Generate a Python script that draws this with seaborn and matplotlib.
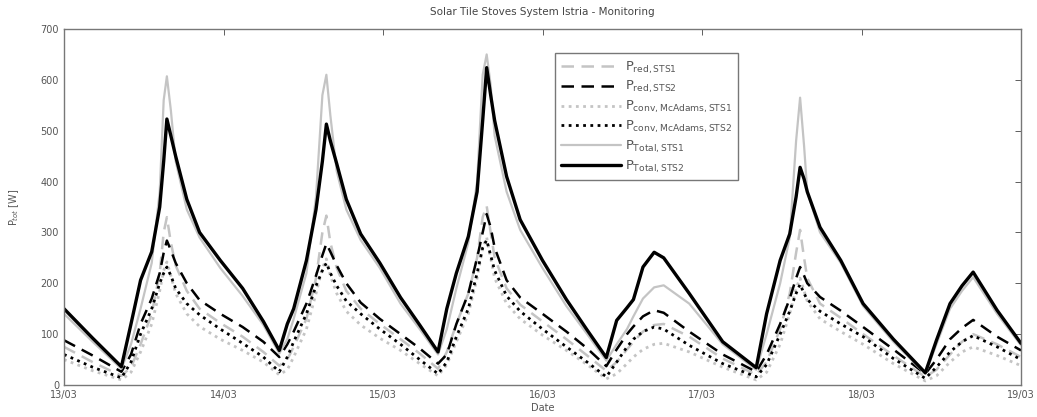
import numpy as np
import pandas as pd
import seaborn as sns
import matplotlib
matplotlib.use("Agg")
import matplotlib.pyplot as plt

# time in days since 13/03 00:00
time_days = [
    0.00, 0.18, 0.36, 0.42, 0.48, 0.55, 0.60, 0.625, 0.645, 0.67, 0.70, 0.77, 0.85, 0.98, 1.12, 1.25,
    1.35, 1.40, 1.44, 1.52, 1.58, 1.62, 1.645, 1.67, 1.71, 1.77, 1.86, 1.98, 2.11, 2.23,
    2.345, 2.40, 2.46, 2.535, 2.59, 2.625, 2.65, 2.675, 2.70, 2.775, 2.86, 3.00, 3.15, 3.28,
    3.40, 3.465, 3.53, 3.57, 3.63, 3.70, 3.76, 3.92, 4.13,
    4.34, 4.405, 4.49, 4.55, 4.59, 4.615, 4.64, 4.66, 4.74, 4.87, 5.01, 5.20,
    5.40, 5.47, 5.555, 5.63, 5.70, 5.85, 6.00,
]

p_red_sts1 = [
    75, 45, 18, 35, 80, 140, 220, 300, 330, 280, 235, 185, 150, 122, 95, 65,
    38, 50, 75, 130, 210, 300, 333, 280, 230, 185, 150, 120, 90, 62,
    32, 65, 120, 180, 250, 330, 352, 300, 250, 190, 158, 125, 90, 58,
    28, 45, 70, 85, 105, 118, 120, 95, 52,
    20, 45, 110, 180, 260, 305, 250, 210, 160, 132, 100, 58,
    16, 30, 60, 85, 100, 80, 55,
]
p_red_sts2 = [
    88, 58, 26, 60, 120, 170, 220, 260, 284, 265, 240, 200, 167, 140, 114, 85,
    55, 80, 105, 160, 215, 255, 278, 262, 235, 200, 162, 130, 100, 72,
    42, 60, 120, 180, 250, 300, 336, 310, 270, 206, 172, 140, 105, 72,
    37, 70, 100, 115, 135, 147, 142, 105, 60,
    26, 60, 120, 170, 210, 232, 215, 200, 173, 146, 114, 70,
    22, 50, 90, 112, 128, 95, 68,
]
p_conv_sts1 = [
    50, 28, 10, 25, 65, 120, 185, 225, 242, 215, 180, 140, 115, 90, 68, 45,
    20, 30, 55, 110, 180, 230, 248, 215, 180, 145, 118, 92, 68, 42,
    18, 40, 85, 140, 210, 270, 290, 250, 210, 160, 130, 98, 68, 40,
    12, 22, 42, 55, 70, 80, 82, 65, 35,
    10, 25, 80, 140, 190, 210, 185, 165, 130, 105, 80, 42,
    8, 18, 45, 65, 75, 58, 38,
]
p_conv_sts2 = [
    60, 35, 14, 45, 100, 150, 200, 220, 232, 215, 190, 160, 138, 110, 82, 55,
    26, 55, 85, 140, 195, 225, 240, 220, 195, 165, 140, 110, 80, 50,
    22, 45, 95, 150, 220, 270, 285, 255, 225, 175, 145, 110, 75, 45,
    16, 45, 75, 90, 105, 114, 110, 78, 42,
    16, 40, 100, 145, 180, 198, 180, 168, 145, 120, 95, 52,
    13, 35, 65, 85, 97, 75, 50,
]
p_total_sts1 = [
    140, 85, 32, 80, 150, 240, 380, 560, 607, 540, 440, 345, 290, 230, 175, 118,
    62, 90, 130, 220, 370, 570, 610, 530, 420, 345, 285, 230, 160, 110,
    60, 110, 190, 280, 400, 610, 650, 590, 490, 380, 305, 230, 155, 100,
    48, 80, 110, 135, 170, 192, 196, 160, 80,
    30, 100, 200, 290, 480, 565, 470, 380, 300, 240, 155, 85,
    22, 80, 150, 185, 212, 140, 78,
]
p_total_sts2 = [
    150, 92, 36, 120, 206, 262, 350, 440, 523, 490, 450, 365, 300, 245, 190, 125,
    68, 120, 150, 245, 345, 440, 513, 480, 435, 365, 297, 240, 172, 118,
    65, 150, 220, 292, 380, 520, 624, 570, 520, 410, 325, 245, 168, 108,
    54, 127, 152, 168, 232, 261, 250, 180, 85,
    34, 140, 245, 297, 370, 428, 405, 380, 310, 245, 160, 90,
    24, 88, 160, 195, 222, 147, 82,
]

tick_labels = ["13/03", "14/03", "15/03", "16/03", "17/03", "18/03", "19/03"]
series_labels = [
    r"P$_{\rm red,STS1}$",
    r"P$_{\rm red,STS2}$",
    r"P$_{\rm conv,McAdams,STS1}$",
    r"P$_{\rm conv,McAdams,STS2}$",
    r"P$_{\rm Total,STS1}$",
    r"P$_{\rm Total,STS2}$",
]
series_values = [p_red_sts1, p_red_sts2, p_conv_sts1, p_conv_sts2, p_total_sts1, p_total_sts2]

grey = "#c4c4c4"
styles = [
    dict(color=grey, ls=(0, (5, 3)), lw=1.8),
    dict(color="black", ls=(0, (5, 3)), lw=1.8),
    dict(color=grey, ls=(0, (1, 1.6)), lw=2.0),
    dict(color="black", ls=(0, (1, 1.6)), lw=2.0),
    dict(color=grey, ls="-", lw=1.6),
    dict(color="black", ls="-", lw=2.4),
]

sns.set_style("white")
plt.rcParams["font.family"] = ["DejaVu Sans"]

fig = plt.figure(figsize=(10.37, 4.17), dpi=100)
ax = fig.add_axes([64 / 1037, 1 - 385 / 417, (1021 - 64) / 1037, (385 - 29) / 417])

for lab, vals, st in zip(series_labels, series_values, styles):
    df = pd.DataFrame({"t": time_days, "P": vals})
    sns.lineplot(data=df, x="t", y="P", ax=ax, color=st["color"], linestyle=st["ls"],
                 linewidth=st["lw"], label=lab)

ax.set_xlim(0, 6)
ax.set_ylim(0, 700)
ax.set_xticks(range(7))
ax.set_xticklabels(tick_labels)
ax.set_yticks(range(0, 701, 100))
ax.tick_params(direction="in", top=True, right=True, length=4, width=0.6,
               labelsize=7, colors="#444444", labelcolor="#555555")
for sp in ax.spines.values():
    sp.set_color("#777777")
    sp.set_linewidth(1.0)
ax.set_xlabel("Date", fontsize=7, color="#555555", labelpad=2)
ax.set_ylabel(r"P$_{tot}$ [W]", fontsize=7, color="#555555", labelpad=14)
ax.set_title("Solar Tile Stoves System Istria - Monitoring", fontsize=7.5, color="#444444", pad=10)

leg = ax.legend(loc="upper left", bbox_to_anchor=(0.506, 0.95), fontsize=9.4,
                frameon=True, fancybox=False, edgecolor="#555555", handlelength=4.6,
                labelspacing=0.26, borderpad=0.45, handletextpad=0.35)
leg.get_frame().set_linewidth(1.0)
for t in leg.get_texts():
    t.set_color("#555555")

fig.savefig("out.png", dpi=100)
